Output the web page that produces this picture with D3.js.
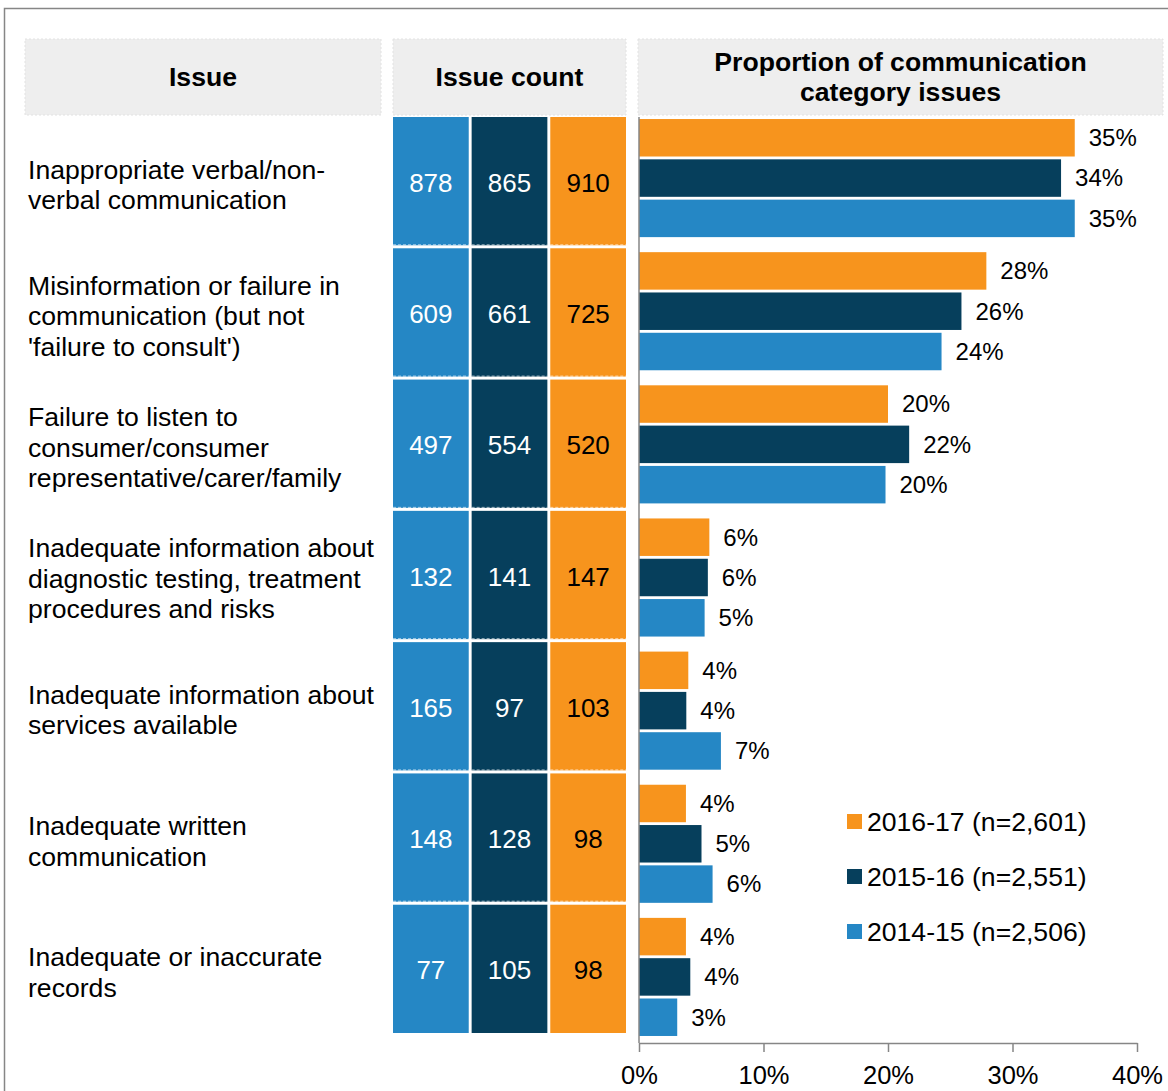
<!DOCTYPE html>
<html>
<head>
<meta charset="utf-8">
<script src="https://cdn.jsdelivr.net/npm/d3@7"></script>
<style>
  body { margin: 0; background: #fff; }
  svg text { font-family: "Liberation Sans", Arial, sans-serif; }
</style>
</head>
<body>
<div class="chart"></div>
<script>
// data
const categories = [
  ["Inappropriate verbal/non-", "verbal communication"],
  ["Misinformation or failure in", "communication (but not", "'failure to consult')"],
  ["Failure to listen to", "consumer/consumer", "representative/carer/family"],
  ["Inadequate information about", "diagnostic testing, treatment", "procedures and risks"],
  ["Inadequate information about", "services available"],
  ["Inadequate written", "communication"],
  ["Inadequate or inaccurate", "records"]
];
const seriesKeys = ["2014-15", "2015-16", "2016-17"];
const seriesLabels = ["2014-15 (n=2,506)", "2015-16 (n=2,551)", "2016-17 (n=2,601)"];

const counts1415 = [878, 609, 497, 132, 165, 148, 77];
const counts1516 = [865, 661, 554, 141, 97, 128, 105];
const counts1617 = [910, 725, 520, 147, 103, 98, 98];

const share1415 = [0.350, 0.243, 0.198, 0.0527, 0.0658, 0.0591, 0.0307];
const share1516 = [0.339, 0.259, 0.217, 0.0553, 0.0380, 0.0502, 0.0412];
const share1617 = [0.350, 0.279, 0.200, 0.0565, 0.0396, 0.0377, 0.0377];

const xTicks = [0, 0.1, 0.2, 0.3, 0.4];

const counts = [counts1415, counts1516, counts1617];
const shares = [share1415, share1516, share1617];
const colors = { "2014-15": "#2587c5", "2015-16": "#063f5c", "2016-17": "#f7941d" };
const textColors = { "2014-15": "#fff", "2015-16": "#fff", "2016-17": "#000" };

const W = 1168, H = 1091;
const svg = d3.select(".chart").append("svg")
  .attr("width", W)
  .attr("height", H);

// outer frame
svg.append("path")
  .attr("d", `M4.5,${H + 5} V8.5 H${W + 5}`)
  .attr("fill", "none")
  .attr("stroke", "#868686")
  .attr("stroke-width", 1.5);

// header boxes
const headers = [
  { x0: 25, x1: 381, lines: ["Issue"] },
  { x0: 393, x1: 626, lines: ["Issue count"] },
  { x0: 638, x1: 1163, lines: ["Proportion of communication", "category issues"] }
];
const hTop = 39, hBot = 115;
const hg = svg.selectAll(".header").data(headers).join("g").attr("class", "header");
hg.append("rect")
  .attr("x", d => d.x0).attr("y", hTop)
  .attr("width", d => d.x1 - d.x0).attr("height", hBot - hTop)
  .attr("fill", "#eeeeee")
  .attr("stroke", "#e2e2e2")
  .attr("stroke-dasharray", "2,2");
hg.selectAll("text").data(d => d.lines.map((l, i) => ({ l, i, n: d.lines.length, cx: (d.x0 + d.x1) / 2 })))
  .join("text")
  .attr("x", d => d.cx)
  .attr("y", d => (hTop + hBot) / 2 + (d.i - (d.n - 1) / 2) * 30)
  .attr("dy", "0.35em")
  .attr("text-anchor", "middle")
  .attr("font-size", 26.6)
  .attr("font-weight", "bold")
  .text(d => d.l);

// rows for labels and count cells
const rowIdx = d3.range(categories.length);
const rowScale = d3.scaleBand().domain(rowIdx).range([117, 1036]);
const colScale = d3.scaleBand().domain(seriesKeys).range([393, 626]).paddingInner(0.037);

svg.append("g").selectAll("g").data(rowIdx).join("g")
  .each(function(r) {
    const g = d3.select(this);
    const cy = rowScale(r) + rowScale.bandwidth() / 2 + 2;
    const lines = categories[r];
    g.selectAll("text").data(lines).join("text")
      .attr("x", 28)
      .attr("y", (d, i) => cy + (i - (lines.length - 1) / 2) * 30.5)
      .attr("dy", "0.35em")
      .attr("font-size", 26.6)
      .attr("fill", "#000")
      .text(d => d);
  });

const cells = [];
seriesKeys.forEach((k, s) => rowIdx.forEach(r => cells.push({ key: k, row: r, value: counts[s][r] })));

const cellG = svg.append("g").selectAll("g").data(cells).join("g");
cellG.append("rect")
  .attr("x", d => colScale(d.key))
  .attr("y", d => rowScale(d.row))
  .attr("width", colScale.bandwidth())
  .attr("height", rowScale.bandwidth() - 3)
  .attr("fill", d => colors[d.key]);
cellG.filter(d => d.row < categories.length - 1).append("line")
  .attr("x1", d => colScale(d.key))
  .attr("x2", d => colScale(d.key) + colScale.bandwidth())
  .attr("y1", d => rowScale(d.row) + rowScale.bandwidth() - 3.5)
  .attr("y2", d => rowScale(d.row) + rowScale.bandwidth() - 3.5)
  .attr("stroke", "#fff")
  .attr("stroke-opacity", 0.6)
  .attr("stroke-dasharray", "3,2");
cellG.append("text")
  .attr("x", d => colScale(d.key) + colScale.bandwidth() / 2)
  .attr("y", d => rowScale(d.row) + rowScale.bandwidth() / 2)
  .attr("dy", "0.35em")
  .attr("text-anchor", "middle")
  .attr("font-size", 26)
  .attr("fill", d => textColors[d.key])
  .text(d => d.value);

// bar chart
const xScale = d3.scaleLinear().domain([0, 0.4]).range([639, 1137]);
const yScale = d3.scaleBand().domain(rowIdx).range([111.5, 1043.5]).paddingInner(0.113).paddingOuter(0.0565);
const barOrder = ["2016-17", "2015-16", "2014-15"];
const ySub = d3.scaleBand().domain(barOrder).range([0, yScale.bandwidth()]).paddingInner(0.07);

const bars = [];
seriesKeys.forEach((k, s) => rowIdx.forEach(r => bars.push({ key: k, row: r, value: shares[s][r] })));

svg.append("g").selectAll("rect").data(bars).join("rect")
  .attr("x", xScale(0))
  .attr("y", d => yScale(d.row) + ySub(d.key))
  .attr("width", d => xScale(d.value) - xScale(0))
  .attr("height", ySub.bandwidth())
  .attr("fill", d => colors[d.key]);

svg.append("g").selectAll("text").data(bars).join("text")
  .attr("x", d => xScale(d.value) + 14)
  .attr("y", d => yScale(d.row) + ySub(d.key) + ySub.bandwidth() / 2)
  .attr("dy", "0.35em")
  .attr("font-size", 24)
  .attr("fill", "#000")
  .text(d => d3.format(".0%")(d.value));

// vertical baseline
svg.append("line")
  .attr("x1", xScale(0)).attr("x2", xScale(0))
  .attr("y1", 117).attr("y2", 1043)
  .attr("stroke", "#868686")
  .attr("stroke-width", 1.5);

const xAxis = d3.axisBottom(xScale)
  .tickValues(xTicks)
  .tickFormat(d3.format(".0%"))
  .tickSize(9)
  .tickSizeOuter(0)
  .tickPadding(14);

const axisG = svg.append("g")
  .attr("transform", "translate(0,1043)")
  .call(xAxis);
axisG.select(".domain").attr("stroke", "#868686").attr("stroke-width", 1.5);
axisG.selectAll(".tick line").attr("stroke", "#868686").attr("stroke-width", 1.5);
axisG.selectAll(".tick text")
  .attr("font-size", 25.5)
  .attr("font-family", "'Liberation Sans', Arial, sans-serif")
  .attr("fill", "#000");

// legend
const legendItems = barOrder.map(k => ({ key: k, label: seriesLabels[seriesKeys.indexOf(k)] }));
const lg = svg.append("g").selectAll("g").data(legendItems).join("g")
  .attr("transform", (d, i) => `translate(847,${821.5 + i * 55})`);
lg.append("rect")
  .attr("x", 0).attr("y", -7.5)
  .attr("width", 15).attr("height", 15)
  .attr("fill", d => colors[d.key]);
lg.append("text")
  .attr("x", 20)
  .attr("dy", "0.35em")
  .attr("font-size", 26.6)
  .text(d => d.label);
</script>
</body>
</html>
